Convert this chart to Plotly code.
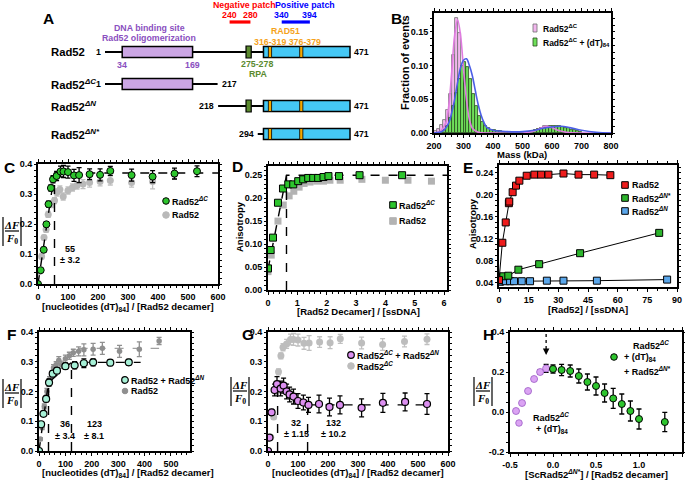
import plotly.graph_objects as go

W, H = 685, 481
FONT = "Arial, Liberation Sans, sans-serif"
SERIF = "Times New Roman, Liberation Serif, serif"

# ---------------- Panel A (domain map, residue numbers) ----------------
A_names = ["Rad52", "Rad52<sup><i>ΔC</i></sup>", "Rad52<sup><i>ΔN</i></sup>", "Rad52<sup><i>ΔN*</i></sup>"]
A_start = [1, 1, 218, 294]
A_end = [471, 217, 471, 471]
A_has_oligo = [True, True, False, False]
A_has_rpa = [True, False, True, False]
A_has_core = [True, False, True, True]
A_oligo = (34, 169)
A_rpa = (275, 278)
A_core = (305, 471)
A_rad51 = [(316, 319), (376, 379)]
A_neg = (240, 280)
A_pos = (340, 394)

# ---------------- Panel B (mass photometry) ----------------
B_pink_x = [205, 215, 225, 235, 245, 255, 265, 275, 285, 295, 305, 315, 325, 335, 345, 355, 365,
            405, 425, 445, 465, 485, 505, 525, 545, 555, 565, 575, 585, 595, 605, 615, 625, 635]
B_pink_y = [0.003, 0.006, 0.012, 0.02, 0.034, 0.058, 0.115, 0.17, 0.148, 0.1, 0.058, 0.028, 0.014, 0.007, 0.004, 0.002, 0.001,
            0.001, 0.001, 0.001, 0.001, 0.001, 0.002, 0.002, 0.004, 0.006, 0.008, 0.01, 0.011, 0.009, 0.007, 0.005, 0.003, 0.002]
B_green_x = [225, 235, 245, 255, 265, 275, 285, 295, 305, 315, 325, 335, 345, 355, 365, 375, 385, 395,
             405, 415, 425, 435, 445, 455, 465, 475, 485, 495, 505, 515, 525, 535, 545, 555, 565, 575,
             585, 595, 605, 615, 625, 635, 645, 655, 665, 675, 685, 695]
B_green_y = [0.002, 0.004, 0.01, 0.022, 0.04, 0.06, 0.08, 0.1, 0.105, 0.098, 0.08, 0.058, 0.04, 0.025, 0.016, 0.01, 0.007, 0.005,
             0.004, 0.003, 0.003, 0.002, 0.002, 0.002, 0.002, 0.002, 0.002, 0.002, 0.002, 0.002, 0.002, 0.002, 0.004, 0.006, 0.007, 0.008,
             0.009, 0.01, 0.01, 0.01, 0.01, 0.009, 0.008, 0.007, 0.005, 0.004, 0.003, 0.002]
B_fit1_x = [200, 220, 240, 250, 260, 270, 280, 290, 300, 310, 320, 330, 350, 400, 500, 540, 560, 580, 600, 620, 650, 700, 800]
B_fit1_y = [0.0, 0.002, 0.015, 0.04, 0.09, 0.145, 0.168, 0.145, 0.095, 0.05, 0.02, 0.007, 0.001, 0.0, 0.0, 0.003, 0.007, 0.01, 0.008, 0.004, 0.001, 0.0, 0.0]
B_fit2_x = [200, 230, 250, 260, 270, 280, 290, 300, 310, 320, 330, 340, 350, 360, 370, 380, 400, 450, 500, 540, 570, 600, 630, 660, 700, 750, 800]
B_fit2_y = [0.0, 0.003, 0.015, 0.03, 0.05, 0.075, 0.097, 0.108, 0.11, 0.1, 0.085, 0.063, 0.042, 0.026, 0.015, 0.008, 0.004, 0.002, 0.002, 0.004, 0.007, 0.009, 0.01, 0.008, 0.004, 0.001, 0.0]

# ---------------- Panel C ----------------
C_dc_x = [0, 9, 19, 28, 35, 43, 50, 62, 75, 85, 100, 120, 137, 172, 207, 241, 312, 382, 455, 530]
C_dc_y = [0.0, 0.046, 0.114, 0.199, 0.266, 0.32, 0.349, 0.36, 0.375, 0.375, 0.373, 0.362, 0.363, 0.366, 0.364, 0.377, 0.363, 0.358, 0.368, 0.376]
C_dc_e = [0.004, 0.005, 0.008, 0.008, 0.01, 0.01, 0.012, 0.015, 0.018, 0.02, 0.02, 0.02, 0.025, 0.018, 0.02, 0.015, 0.02, 0.02, 0.018, 0.018]
C_wt_x = [5, 12, 20, 27, 34, 45, 55, 63, 73, 84, 100, 115, 130, 150, 172, 207, 241, 312, 382, 455]
C_wt_y = [0.042, 0.092, 0.155, 0.182, 0.232, 0.265, 0.278, 0.305, 0.315, 0.292, 0.312, 0.322, 0.328, 0.333, 0.338, 0.342, 0.345, 0.338, 0.342, 0.365]
C_wt_e = [0.005, 0.008, 0.008, 0.01, 0.01, 0.01, 0.01, 0.012, 0.012, 0.012, 0.012, 0.012, 0.012, 0.015, 0.015, 0.015, 0.015, 0.015, 0.025, 0.015]
C_fit_x = [0, 55, 600]
C_fit_y = [0.0, 0.37, 0.37]
C_break = 55

# ---------------- Panel D ----------------
D_dc_x = [0.0, 0.09, 0.17, 0.34, 0.51, 0.69, 0.86, 1.03, 1.2, 1.37, 1.54, 1.71, 1.89, 2.06, 2.42, 3.12, 4.57]
D_dc_y = [0.047, 0.087, 0.114, 0.19, 0.221, 0.23, 0.23, 0.237, 0.241, 0.244, 0.244, 0.244, 0.246, 0.248, 0.248, 0.25, 0.25]
D_wt_x = [0.0, 0.11, 0.34, 0.52, 0.72, 0.88, 1.06, 1.23, 1.43, 1.66, 1.89, 2.11, 2.46, 3.2, 4.0, 4.77, 5.57]
D_wt_y = [0.04, 0.076, 0.15, 0.185, 0.205, 0.215, 0.224, 0.232, 0.235, 0.237, 0.237, 0.239, 0.239, 0.241, 0.239, 0.239, 0.237]
D_fit_x = [0.0, 0.63, 6.2]
D_fit_y = [0.045, 0.25, 0.25]
D_break = 0.63

# ---------------- Panel E ----------------
E_wt_x = [0, 1.7, 3.4, 5.0, 5.2, 6.9, 8.6, 10.3, 14, 17.9, 21.3, 25, 32.6, 40.2, 48.1, 56.3]
E_wt_y = [0.045, 0.113, 0.15, 0.185, 0.188, 0.205, 0.217, 0.226, 0.235, 0.237, 0.237, 0.237, 0.239, 0.237, 0.237, 0.236]
E_ns_x = [0, 2.2, 4.7, 9.8, 20.3, 41, 81]
E_ns_y = [0.045, 0.052, 0.053, 0.064, 0.074, 0.094, 0.131]
E_dn_x = [0.5, 3.4, 5.6, 7.6, 11.5, 15.7, 24.2, 32.6, 49.5, 85]
E_dn_y = [0.042, 0.043, 0.043, 0.043, 0.043, 0.043, 0.044, 0.044, 0.044, 0.046]

# ---------------- Panel F ----------------
F_mix_x = [0, 8, 17, 27, 38, 52, 68, 100, 135, 170, 205, 270, 340]
F_mix_y = [0.0, 0.09, 0.125, 0.175, 0.23, 0.26, 0.27, 0.285, 0.288, 0.295, 0.298, 0.297, 0.298]
F_mix_e = [0.004, 0.008, 0.008, 0.01, 0.012, 0.01, 0.01, 0.01, 0.012, 0.015, 0.012, 0.01, 0.01]
F_wt_x = [5, 12, 20, 30, 40, 55, 65, 75, 85, 100, 115, 130, 150, 170, 205, 240, 305, 380, 455]
F_wt_y = [0.04, 0.08, 0.15, 0.2, 0.24, 0.28, 0.29, 0.305, 0.29, 0.31, 0.32, 0.33, 0.335, 0.34, 0.342, 0.345, 0.335, 0.342, 0.37]
F_wt_e = [0.005, 0.008, 0.008, 0.01, 0.01, 0.01, 0.01, 0.012, 0.012, 0.012, 0.012, 0.012, 0.015, 0.02, 0.02, 0.02, 0.02, 0.025, 0.012]
F_fit_x = [0, 36, 123, 385]
F_fit_y = [0.0, 0.23, 0.298, 0.298]
F_fitwt_x = [150, 455]
F_fitwt_y = [0.345, 0.345]
F_breaks = [36, 123]

# ---------------- Panel G ----------------
G_mix_x = [0, 5, 12, 22, 30, 42, 52, 62, 72, 85, 100, 118, 135, 170, 205, 240, 312, 383, 457, 530]
G_mix_y = [0.0, 0.045, 0.13, 0.205, 0.225, 0.21, 0.22, 0.2, 0.19, 0.183, 0.168, 0.163, 0.155, 0.158, 0.148, 0.155, 0.145, 0.162, 0.165, 0.158]
G_mix_e = [0.004, 0.006, 0.01, 0.02, 0.025, 0.025, 0.025, 0.025, 0.025, 0.025, 0.025, 0.025, 0.025, 0.03, 0.03, 0.03, 0.03, 0.032, 0.03, 0.035]
G_fit_x = [132, 530]
G_fit_y = [0.155, 0.155]
G_breaks = [32, 132]
G_break_tops = [0.225, 0.155]

# ---------------- Panel H ----------------
H_dc_x = [-0.43, -0.36, -0.29, -0.22, -0.15, -0.08]
H_dc_y = [0.005, 0.045, 0.105, 0.165, 0.2, 0.218]
H_dc_e = [0.0, 0.0, 0.0, 0.0, 0.012, 0.02]
H_mix_x = [0.0, 0.1, 0.2, 0.3, 0.4, 0.5, 0.6, 0.7, 0.8, 0.9, 1.0, 1.3]
H_mix_y = [0.215, 0.21, 0.205, 0.18, 0.15, 0.13, 0.095, 0.068, 0.04, 0.005, -0.035, -0.05]
H_mix_e = [0.02, 0.028, 0.03, 0.035, 0.04, 0.045, 0.045, 0.05, 0.05, 0.05, 0.05, 0.048]

# =====================================================================
TICK = 9
TITLE = 9.5
LEG = 9
SMALL = 8.8


def X(p):
    return p / W


def Y(p):
    return 1 - p / H


fig = go.Figure()
ann = []
shp = []


def text(x, y, s, size=10, color="black", bold=True, xanchor="center", yanchor="middle",
         angle=0, family=FONT):
    ann.append(dict(x=X(x), y=Y(y), xref="paper", yref="paper",
                    text=("<b>%s</b>" % s) if bold else s, showarrow=False,
                    font=dict(size=size, color=color, family=family),
                    xanchor=xanchor, yanchor=yanchor, textangle=angle, borderpad=0))


def pline(x0, y0, x1, y1, color="black", width=1.2, dash="solid"):
    shp.append(dict(type="line", xref="paper", yref="paper", x0=X(x0), y0=Y(y0), x1=X(x1), y1=Y(y1),
                    line=dict(color=color, width=width, dash=dash)))


def pmark(cx, cy, kind, fill, edge="black", r=3.3, lw=1):
    shp.append(dict(type="circle" if kind == "circle" else "rect", xref="paper", yref="paper",
                    x0=X(cx - r), x1=X(cx + r), y0=Y(cy + r), y1=Y(cy - r),
                    fillcolor=fill, line=dict(color=edge, width=lw)))


def dff(cx, cy):
    text(cx, cy - 6.5, "<i>ΔF</i>", size=11, family=SERIF)
    text(cx, cy + 7.5, "<i>F</i><sub>0</sub>", size=11, family=SERIF)
    pline(cx - 7, cy, cx + 7, cy, width=1.2)
    pline(cx - 9, cy - 14, cx - 9, cy + 15, width=1.2)
    pline(cx + 9, cy - 14, cx + 9, cy + 15, width=1.2)


layout_axes = {}


def axes(n, xpx, ypx, xr, yr, xd, yd, xfmt, yfmt, x0=None, y0=None, xtt=None, ytt=None):
    xs = "xaxis" if n == 1 else "xaxis%d" % n
    ys = "yaxis" if n == 1 else "yaxis%d" % n
    common = dict(showline=True, linecolor="black", linewidth=2, mirror="ticks", ticks="outside",
                  tickwidth=1.3, tickcolor="black", showgrid=False, zeroline=False,
                  automargin=False,
                  tickfont=dict(size=TICK, family=FONT, color="black", weight="bold"),
                  minor=dict(ticks="outside", ticklen=1.8, tickwidth=1, tickcolor="black"))
    xa = dict(common, domain=[X(xpx[0]), X(xpx[1])], range=xr, anchor="y%d" % n, dtick=xd,
              tickformat=xfmt, ticklabelstandoff=0, ticklen=3)
    ya = dict(common, domain=[Y(ypx[1]), Y(ypx[0])], range=yr, anchor="x%d" % n, dtick=yd,
              tickformat=yfmt, ticklabelstandoff=0, ticklen=2)
    if x0 is not None:
        xa["tick0"] = x0
    if y0 is not None:
        ya["tick0"] = y0
    if xtt:
        xa.update(tickmode="array", tickvals=xtt[0], ticktext=xtt[1])
    if ytt:
        ya.update(tickmode="array", tickvals=ytt[0], ticktext=ytt[1])
    layout_axes[xs] = xa
    layout_axes[ys] = ya


# ---------------- Panel A drawing ----------------
A_px0, A_slope = 105.0, 0.5213
layout_axes["xaxis"] = dict(domain=[0, 1], range=[1 - A_px0 / A_slope, 1 + (W - A_px0) / A_slope],
                            visible=False, anchor="y", automargin=False)
layout_axes["yaxis"] = dict(domain=[0, 1], range=[0, 1], visible=False, anchor="x", automargin=False)
fig.add_trace(go.Scatter(x=[0], y=[0], xaxis="x", yaxis="y", mode="markers",
                         marker=dict(opacity=0), hoverinfo="skip", showlegend=False))

rows = [52, 84, 106, 134]
res_px = 1 / A_slope
for i, name in enumerate(A_names):
    yr = rows[i]
    shp.append(dict(type="line", xref="x", yref="paper", x0=A_start[i], x1=A_end[i], y0=Y(yr), y1=Y(yr),
                    line=dict(color="black", width=2)))
    if A_has_oligo[i]:
        shp.append(dict(type="rect", xref="x", yref="paper", x0=A_oligo[0], x1=A_oligo[1],
                        y0=Y(yr + 5.5), y1=Y(yr - 5.5), fillcolor="#cba6e4", line=dict(color="black", width=1.5)))
    if A_has_rpa[i]:
        c = (A_rpa[0] + A_rpa[1]) / 2
        shp.append(dict(type="rect", xref="x", yref="paper", x0=c - 2.6 * res_px, x1=c + 2.6 * res_px,
                        y0=Y(yr + 6), y1=Y(yr - 6), fillcolor="#5b8a2e", line=dict(color="black", width=1.2)))
    if A_has_core[i]:
        shp.append(dict(type="rect", xref="x", yref="paper", x0=A_core[0], x1=A_core[1],
                        y0=Y(yr + 5.5), y1=Y(yr - 5.5), fillcolor="#45c8f5", line=dict(color="black", width=1.5)))
        for a, b in A_rad51:
            c = (a + b) / 2
            shp.append(dict(type="rect", xref="x", yref="paper", x0=c - 1.6 * res_px, x1=c + 1.6 * res_px,
                            y0=Y(yr + 5.5), y1=Y(yr - 5.5), fillcolor="#f5a800",
                            line=dict(color="black", width=0.8)))
    text(50, yr, name, size=11.3, xanchor="left")
    ann.append(dict(x=A_start[i], y=Y(yr), xref="x", yref="paper", text="<b>%d</b>" % A_start[i],
                    showarrow=False, xanchor="right", yanchor="middle", xshift=-2,
                    font=dict(size=SMALL, family=FONT)))
    ann.append(dict(x=A_end[i], y=Y(yr), xref="x", yref="paper", text="<b>%d</b>" % A_end[i],
                    showarrow=False, xanchor="left", yanchor="middle", xshift=2,
                    font=dict(size=SMALL, family=FONT)))

# patches
for (a, b), col in [(A_neg, "#ff0000"), (A_pos, "#0000ff")]:
    shp.append(dict(type="line", xref="x", yref="paper", x0=a, x1=b, y0=Y(22), y1=Y(22),
                    line=dict(color=col, width=3.2)))
    for v in (a, b):
        ann.append(dict(x=v, y=Y(15), xref="x", yref="paper", text="<b>%d</b>" % v, showarrow=False,
                        yanchor="middle", font=dict(size=SMALL, color=col, family=FONT)))
text(244, 5, "Negative patch", size=SMALL, color="#ff0000")
text(305, 5, "Positive patch", size=SMALL, color="#0000ff")
text(149, 28, "DNA binding site", size=SMALL, color="#8a4fc0")
text(149, 38.5, "Rad52 oligomerization", size=SMALL, color="#8a4fc0")
for v in A_oligo:
    ann.append(dict(x=v, y=Y(65), xref="x", yref="paper", text="<b>%d</b>" % v, showarrow=False,
                    yanchor="middle", font=dict(size=SMALL, color="#8a4fc0", family=FONT)))
text(285, 31, "RAD51", size=SMALL, color="#f5a21b")
text(287, 41.5, "%d-%d %d-%d" % (A_rad51[0] + A_rad51[1]), size=SMALL, color="#f5a21b")
text(257, 64, "%d-%d" % A_rpa, size=SMALL, color="#5b8a2e")
text(258, 74, "RPA", size=SMALL, color="#5b8a2e")

# panel letters
for L, x, y in [("A", 48, 18), ("B", 396, 18), ("C", 9, 167), ("D", 237, 166), ("E", 468, 167),
                ("F", 11, 334), ("G", 248, 334), ("H", 488, 334)]:
    text(x, y, L, size=15.5)

# ---------------- Panel B ----------------
axes(2, (434, 611), (13, 133), [200, 800], [0, 0.178], 100, 0.05, "d", ".2f")
fig.add_trace(go.Bar(x=B_pink_x, y=B_pink_y, width=10, xaxis="x2", yaxis="y2",
                     marker=dict(color="#f2b6ee", line=dict(color="#707070", width=0.8)), showlegend=False))
fig.add_trace(go.Bar(x=B_green_x, y=B_green_y, width=10, xaxis="x2", yaxis="y2",
                     marker=dict(color="#6fe05a", line=dict(color="#2a4a20", width=0.8)), showlegend=False))
fig.add_trace(go.Scatter(x=B_fit1_x, y=B_fit1_y, xaxis="x2", yaxis="y2", mode="lines",
                         line=dict(color="#e07be0", width=1.6, shape="spline"), showlegend=False))
fig.add_trace(go.Scatter(x=B_fit2_x, y=B_fit2_y, xaxis="x2", yaxis="y2", mode="lines",
                         line=dict(color="#4b5ee6", width=1.6, shape="spline"), showlegend=False))
text(405, 63, "Fraction of events", size=11, angle=-90)
text(522, 154, "Mass (kDa)", size=TITLE)
shp.append(dict(type="rect", xref="paper", yref="paper", x0=X(533), x1=X(537), y0=Y(32), y1=Y(24),
                fillcolor="#f2b6ee", line=dict(color="#707070", width=0.8)))
shp.append(dict(type="rect", xref="paper", yref="paper", x0=X(533), x1=X(537), y0=Y(46), y1=Y(38),
                fillcolor="#6fe05a", line=dict(color="#2a4a20", width=0.8)))
text(542, 28, "Rad52<sup>ΔC</sup>", size=8.5, xanchor="left")
text(542, 42, "Rad52<sup>ΔC</sup> + (dT)<sub>84</sub>", size=8.5, xanchor="left")


def err(arr, color):
    return dict(type="data", array=arr, color=color, thickness=1.3, width=2.5)


# ---------------- Panel C ----------------
axes(3, (38, 218), (164, 284), [0, 600], [0, 0.4], 100, 0.1, "d", ".1f")
fig.add_trace(go.Scatter(x=C_wt_x, y=C_wt_y, xaxis="x3", yaxis="y3", mode="markers",
                         error_y=err(C_wt_e, "#c0c0c0"), marker=dict(size=7, color="#b9b9b9"), showlegend=False))
fig.add_trace(go.Scatter(x=C_fit_x, y=C_fit_y, xaxis="x3", yaxis="y3", mode="lines",
                         line=dict(color="black", width=1.4, dash="dash"), showlegend=False))
fig.add_trace(go.Scatter(x=[C_break, C_break], y=[0, C_fit_y[1]], xaxis="x3", yaxis="y3", mode="lines",
                         line=dict(color="black", width=1.4, dash="dash"), showlegend=False))
fig.add_trace(go.Scatter(x=C_dc_x, y=C_dc_y, xaxis="x3", yaxis="y3", mode="markers",
                         error_y=err(C_dc_e, "black"),
                         marker=dict(size=7, color="#2dc52d", line=dict(color="black", width=1)), showlegend=False))
dff(12, 231)
text(128, 307, "[nucleotides (dT)<sub>84</sub>] / [Rad52 decamer]", size=TITLE)
text(70, 249, "55", size=TICK)
text(70, 260, "± 3.2", size=TICK)
pmark(166, 201, "circle", "#2dc52d")
pmark(166, 215, "circle", "#b9b9b9", edge="#b9b9b9")
text(171, 201, "Rad52<sup><i>ΔC</i></sup>", size=LEG, xanchor="left")
text(171, 215, "Rad52", size=LEG, xanchor="left")

# ---------------- Panel D ----------------
axes(4, (268, 447), (166, 290), [0, 6.1], [0, 0.27], 1, 0.05, "d", ".2f")
fig.add_trace(go.Scatter(x=D_wt_x, y=D_wt_y, xaxis="x4", yaxis="y4", mode="markers",
                         marker=dict(size=7, symbol="square", color="#b3b3b3"), showlegend=False))
fig.add_trace(go.Scatter(x=D_fit_x, y=D_fit_y, xaxis="x4", yaxis="y4", mode="lines",
                         line=dict(color="black", width=1.4, dash="dash"), showlegend=False))
fig.add_trace(go.Scatter(x=[D_break, D_break], y=[0, D_fit_y[1]], xaxis="x4", yaxis="y4", mode="lines",
                         line=dict(color="black", width=1.4, dash="dash"), showlegend=False))
fig.add_trace(go.Scatter(x=D_dc_x, y=D_dc_y, xaxis="x4", yaxis="y4", mode="markers",
                         marker=dict(size=7, symbol="square", color="#2dc52d", line=dict(color="black", width=1)),
                         showlegend=False))
text(239, 226, "Anisotropy", size=TITLE, angle=-90)
text(358, 311, "[Rad52 Decamer] / [ssDNA]", size=TITLE)
pmark(393, 205, "rect", "#2dc52d")
pmark(393, 221, "rect", "#b3b3b3", edge="#b3b3b3")
text(398, 205, "Rad52<sup><i>ΔC</i></sup>", size=LEG, xanchor="left")
text(398, 221, "Rad52", size=LEG, xanchor="left")

# ---------------- Panel E ----------------
axes(5, (499, 677), (165, 287), [0, 90], [0.0325, 0.2545], 15, 0.04, "d", ".2f", y0=0.04)
for xs_, ys_, col in [(E_dn_x, E_dn_y, "#5aa6ea"), (E_ns_x, E_ns_y, "#2db52d"), (E_wt_x, E_wt_y, "#ee1c1c")]:
    fig.add_trace(go.Scatter(x=xs_, y=ys_, xaxis="x5", yaxis="y5", mode="lines+markers",
                             line=dict(color="black", width=1),
                             marker=dict(size=7, symbol="square", color=col, line=dict(color="black", width=1)),
                             showlegend=False))
text(472, 224, "Anisotropy", size=TITLE, angle=-90)
text(588, 309, "[Rad52] / [ssDNA]", size=TITLE)
for yy, col, lab in [(185, "#ee1c1c", "Rad52"), (198, "#2db52d", "Rad52<sup><i>ΔN*</i></sup>"),
                     (211, "#5aa6ea", "Rad52<sup><i>ΔN</i></sup>")]:
    pmark(625, yy, "rect", col)
    text(631, yy, lab, size=LEG, xanchor="left")

# ---------------- Panel F ----------------
axes(6, (39, 190), (332, 451), [0, 572], [0, 0.4], 100, 0.1, "d", ".1f")
fig.add_trace(go.Scatter(x=F_fitwt_x, y=F_fitwt_y, xaxis="x6", yaxis="y6", mode="lines",
                         line=dict(color="#a0a0a0", width=1.4, dash="dash"), showlegend=False))
fig.add_trace(go.Scatter(x=F_wt_x, y=F_wt_y, xaxis="x6", yaxis="y6", mode="markers",
                         error_y=err(F_wt_e, "#909090"), marker=dict(size=5.5, color="#8f8f8f"), showlegend=False))
fig.add_trace(go.Scatter(x=F_fit_x, y=F_fit_y, xaxis="x6", yaxis="y6", mode="lines",
                         line=dict(color="black", width=1.4, dash="dash"), showlegend=False))
for k, b in enumerate(F_breaks):
    fig.add_trace(go.Scatter(x=[b, b], y=[0, F_fit_y[k + 1]], xaxis="x6", yaxis="y6", mode="lines",
                             line=dict(color="black", width=1.4, dash="dash"), showlegend=False))
fig.add_trace(go.Scatter(x=F_mix_x, y=F_mix_y, xaxis="x6", yaxis="y6", mode="markers",
                         error_y=err(F_mix_e, "black"),
                         marker=dict(size=7, color="#a6f0d6", line=dict(color="black", width=1.2)), showlegend=False))
dff(12, 393)
text(128, 473, "[nucleotides (dT)<sub>84</sub>] / [Rad52 decamer]", size=TITLE)
text(65, 424, "36", size=TICK)
text(65, 436, "± 3.4", size=TICK)
text(94, 424, "123", size=TICK)
text(94, 436, "± 8.1", size=TICK)
pmark(125, 380, "circle", "#a6f0d6", lw=1.2)
pmark(125, 391, "circle", "#8f8f8f", edge="#8f8f8f", r=2.8)
text(130, 380, "Rad52 + Rad52<sup><i>ΔN</i></sup>", size=LEG, xanchor="left")
text(130, 391, "Rad52", size=LEG, xanchor="left")

# ---------------- Panel G ----------------
axes(7, (268, 448), (332, 451), [0, 600], [0, 0.4], 100, 0.1, "d", ".1f")
fig.add_trace(go.Scatter(x=C_dc_x, y=C_dc_y, xaxis="x7", yaxis="y7", mode="markers",
                         error_y=err(C_dc_e, "#c0c0c0"), marker=dict(size=7, color="#bdbdbd"), showlegend=False))
fig.add_trace(go.Scatter(x=G_fit_x, y=G_fit_y, xaxis="x7", yaxis="y7", mode="lines",
                         line=dict(color="black", width=1.4, dash="dash"), showlegend=False))
for b, t in zip(G_breaks, G_break_tops):
    fig.add_trace(go.Scatter(x=[b, b], y=[0, t], xaxis="x7", yaxis="y7", mode="lines",
                             line=dict(color="black", width=1.4, dash="dash"), showlegend=False))
fig.add_trace(go.Scatter(x=G_mix_x, y=G_mix_y, xaxis="x7", yaxis="y7", mode="markers",
                         error_y=err(G_mix_e, "black"),
                         marker=dict(size=7, color="#dc8ff0", line=dict(color="black", width=1.2)), showlegend=False))
dff(240, 391)
text(358, 473, "[nucleotides (dT)<sub>84</sub>] / [Rad52 decamer]", size=TITLE)
text(296, 423, "32", size=TICK)
text(296, 434, "± 1.15", size=TICK)
text(333, 423, "132", size=TICK)
text(333, 434, "± 10.2", size=TICK)
pmark(351, 355, "circle", "#dc8ff0", lw=1.2)
pmark(351, 366, "circle", "#bdbdbd", edge="#bdbdbd")
text(356, 355, "Rad52<sup><i>ΔC</i></sup> + Rad52<sup><i>ΔN</i></sup>", size=LEG, xanchor="left")
text(356, 366, "Rad52<sup><i>ΔC</i></sup>", size=LEG, xanchor="left")

# ---------------- Panel H ----------------
axes(8, (510, 682), (332, 452), [-0.5, 1.5], [-0.2, 0.4], 0.5, 0.2, ".1f", ".1f",
     xtt=([-0.5, 0, 0.5, 1.0, 1.5], ["-0.5", "0.0", "0.5", "1.0", "1.5"]),
     ytt=([-0.2, 0, 0.2, 0.4], ["-0.2", "0.0", "0.2", "0.4"]))
fig.add_trace(go.Scatter(x=H_dc_x, y=H_dc_y, xaxis="x8", yaxis="y8", mode="markers",
                         error_y=err(H_dc_e, "black"),
                         marker=dict(size=7, color="#dba3f3", line=dict(color="#9b5cc4", width=0.8)),
                         showlegend=False))
fig.add_trace(go.Scatter(x=H_mix_x, y=H_mix_y, xaxis="x8", yaxis="y8", mode="markers",
                         error_y=err(H_mix_e, "black"),
                         marker=dict(size=7, color="#2dc52d", line=dict(color="black", width=1)), showlegend=False))
arrow_x = H_dc_x[-1]
shp.append(dict(type="line", xref="x8", yref="y8", x0=arrow_x, x1=arrow_x, y0=0.39, y1=0.31,
                line=dict(color="black", width=1.3, dash="dot")))
ann.append(dict(x=arrow_x, y=0.285, ax=arrow_x, ay=0.315, xref="x8", yref="y8", axref="x8", ayref="y8",
                showarrow=True, arrowhead=2, arrowsize=1, arrowwidth=1.3, arrowcolor="black", text=""))
dff(483, 391)
text(596, 474, "[ScRad52<sup><i>ΔN*</i></sup>] / [Rad52 decamer]", size=TITLE)
text(632, 345, "Rad52<sup><i>ΔC</i></sup>", size=LEG, xanchor="left")
pmark(614, 357, "circle", "#2dc52d")
text(623, 357, "+ (dT)<sub>84</sub>", size=LEG, xanchor="left")
text(623, 371, "+ Rad52<sup><i>ΔN*</i></sup>", size=LEG, xanchor="left")
pmark(519, 423, "circle", "#dba3f3", edge="#9b5cc4", lw=0.8)
text(532, 417, "Rad52<sup><i>ΔC</i></sup>", size=LEG, xanchor="left")
text(535, 429, "+ (dT)<sub>84</sub>", size=LEG, xanchor="left")

fig.update_layout(width=W, height=H, margin=dict(l=0, r=0, t=0, b=0, autoexpand=False), paper_bgcolor="white",
                  plot_bgcolor="rgba(0,0,0,0)", barmode="overlay", bargap=0, showlegend=False,
                  font=dict(family=FONT, color="black"), annotations=ann, shapes=shp, **layout_axes)
fig.write_html("out.html", config={"displayModeBar": False},
               post_script="document.body.style.margin='0px';document.body.style.overflow='hidden';")
